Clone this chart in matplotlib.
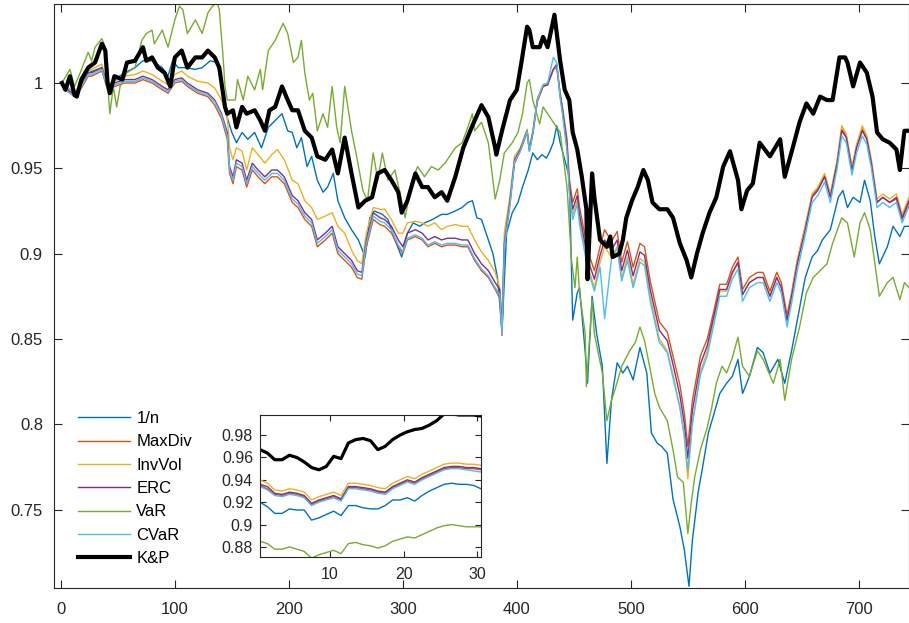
import numpy as np
import matplotlib
matplotlib.use('Agg')
import matplotlib.pyplot as plt

plt.rcParams['font.family'] = ['Liberation Sans', 'DejaVu Sans']

# MATLAB default colour order
c_1n = '#0072BD'
c_maxdiv = '#D95319'
c_invvol = '#EDB120'
c_erc = '#7E2F8E'
c_var = '#77AC30'
c_cvar = '#4DBEEE'
c_kp = 'black'
axcol = '#262626'

# ---- main chart data (day, cumulative value) ----
kp_days = [1, 4, 8, 12, 14, 18, 24, 30, 36, 39,
           41, 43, 47, 54, 58, 65, 72, 75, 80, 85,
           91, 96, 100, 106, 111, 118, 124, 129, 135, 139,
           144, 146, 151, 154, 159, 163, 170, 175, 179, 183,
           188, 194, 199, 203, 208, 214, 220, 225, 232, 238,
           243, 249, 255, 261, 267, 273, 278, 284, 290, 296,
           299, 304, 311, 317, 322, 328, 334, 339, 346, 353,
           361, 369, 375, 381, 382, 387, 394, 400, 404, 409,
           411, 414, 420, 423, 427, 433, 438, 442, 446, 449,
           453, 457, 461, 462, 466, 468, 473, 479, 482, 484,
           490, 493, 496, 501, 506, 511, 515, 519, 525, 532,
           537, 543, 549, 553, 558, 563, 569, 575, 581, 587,
           589, 594, 597, 602, 607, 613, 622, 631, 635, 642,
           648, 654, 660, 666, 672, 677, 683, 688, 690, 695,
           701, 707, 712, 716, 721, 727, 733, 736, 740, 744]
kp_vals = [1.000, 0.996, 1.004, 0.993, 0.992, 1.002, 1.009, 1.012, 1.023, 1.019,
           1.000, 0.994, 1.004, 1.002, 1.012, 1.013, 1.021, 1.013, 1.015, 1.009,
           1.006, 0.998, 1.015, 1.019, 1.009, 1.015, 1.015, 1.019, 1.015, 1.009,
           0.986, 0.982, 0.984, 0.974, 0.986, 0.982, 0.984, 0.978, 0.972, 0.984,
           0.986, 0.998, 0.990, 0.984, 0.984, 0.972, 0.968, 0.957, 0.955, 0.961,
           0.947, 0.968, 0.947, 0.927, 0.931, 0.933, 0.947, 0.949, 0.943, 0.936,
           0.924, 0.931, 0.947, 0.939, 0.939, 0.933, 0.936, 0.931, 0.945, 0.962,
           0.975, 0.987, 0.980, 0.962, 0.958, 0.972, 0.990, 0.996, 1.012, 1.033,
           1.031, 1.021, 1.021, 1.027, 1.021, 1.040, 1.013, 0.996, 0.990, 0.971,
           0.961, 0.945, 0.926, 0.885, 0.947, 0.933, 0.908, 0.904, 0.910, 0.898,
           0.900, 0.908, 0.921, 0.931, 0.939, 0.949, 0.943, 0.930, 0.926, 0.926,
           0.921, 0.906, 0.896, 0.886, 0.900, 0.912, 0.924, 0.933, 0.951, 0.960,
           0.955, 0.943, 0.926, 0.937, 0.941, 0.965, 0.957, 0.967, 0.945, 0.962,
           0.977, 0.988, 0.982, 0.992, 0.990, 0.990, 1.015, 1.015, 1.012, 0.998,
           1.012, 1.006, 0.992, 0.971, 0.967, 0.965, 0.961, 0.949, 0.972, 0.972]

var_days = [1, 8, 12, 17, 24, 27, 30, 36, 39, 41,
            43, 46, 49, 52, 58, 65, 71, 75, 80, 82,
            89, 94, 100, 104, 107, 111, 118, 124, 129, 133,
            137, 139, 142, 144, 146, 153, 155, 160, 164, 170,
            175, 177, 182, 188, 195, 199, 204, 208, 211, 214,
            218, 221, 225, 230, 234, 238, 242, 245, 249, 255,
            260, 265, 269, 274, 278, 282, 287, 293, 299, 302,
            308, 313, 319, 325, 331, 337, 343, 346, 352, 357,
            361, 363, 369, 375, 381, 385, 389, 396, 401, 405,
            409, 411, 414, 420, 423, 429, 438, 444, 448, 451,
            453, 455, 460, 461, 466, 468, 475, 479, 483, 486,
            492, 499, 504, 508, 512, 517, 521, 525, 532, 537,
            541, 546, 550, 553, 556, 561, 567, 571, 575, 580,
            584, 589, 594, 598, 604, 611, 616, 625, 631, 635,
            641, 648, 654, 660, 666, 672, 677, 685, 690, 696,
            701, 705, 710, 716, 718, 725, 730, 736, 740, 744]
var_vals = [1.000, 1.008, 0.998, 1.006, 1.018, 1.013, 1.021, 1.026, 1.021, 1.000,
            0.982, 0.998, 0.986, 0.998, 1.006, 1.009, 1.025, 1.029, 1.031, 1.023,
            1.031, 1.021, 1.037, 1.045, 1.043, 1.029, 1.037, 1.029, 1.041, 1.045,
            1.047, 1.043, 1.018, 0.998, 0.990, 0.990, 1.002, 0.990, 1.004, 0.996,
            1.008, 0.996, 1.019, 1.025, 1.035, 1.029, 1.012, 1.015, 1.025, 1.006,
            0.990, 0.994, 0.972, 0.982, 0.974, 0.998, 0.974, 0.965, 0.998, 0.972,
            0.955, 0.937, 0.931, 0.959, 0.943, 0.959, 0.943, 0.949, 0.931, 0.921,
            0.943, 0.951, 0.945, 0.951, 0.949, 0.953, 0.959, 0.962, 0.965, 0.974,
            0.982, 0.972, 0.977, 0.965, 0.932, 0.943, 0.959, 0.965, 0.971, 0.982,
            1.000, 1.002, 0.990, 0.976, 0.986, 0.980, 0.971, 0.939, 0.896, 0.880,
            0.898, 0.877, 0.853, 0.822, 0.873, 0.853, 0.830, 0.802, 0.814, 0.820,
            0.834, 0.843, 0.848, 0.857, 0.849, 0.832, 0.818, 0.810, 0.802, 0.785,
            0.769, 0.766, 0.736, 0.754, 0.769, 0.785, 0.798, 0.810, 0.824, 0.834,
            0.830, 0.839, 0.851, 0.834, 0.828, 0.843, 0.838, 0.824, 0.838, 0.814,
            0.838, 0.857, 0.877, 0.886, 0.890, 0.894, 0.906, 0.921, 0.918, 0.898,
            0.918, 0.924, 0.914, 0.885, 0.875, 0.883, 0.886, 0.873, 0.883, 0.880]

n_days = [1, 12, 24, 36, 41, 47, 56, 65, 72, 80,
          89, 94, 98, 103, 109, 118, 124, 131, 137, 141,
          144, 150, 154, 159, 164, 170, 176, 182, 188, 194,
          199, 203, 207, 211, 216, 220, 225, 230, 234, 239,
          243, 249, 255, 261, 267, 271, 275, 282, 287, 293,
          299, 304, 309, 315, 319, 326, 334, 339, 346, 352,
          357, 361, 365, 369, 375, 379, 383, 387, 391, 396,
          401, 405, 410, 414, 418, 422, 426, 429, 432, 435,
          438, 442, 446, 449, 453, 455, 460, 462, 466, 470,
          475, 479, 483, 488, 493, 497, 502, 508, 514, 518,
          523, 527, 532, 537, 543, 547, 551, 554, 559, 563,
          568, 572, 578, 584, 589, 594, 598, 604, 611, 616,
          622, 629, 635, 641, 646, 653, 659, 664, 668, 675,
          682, 686, 690, 695, 701, 705, 710, 714, 718, 725,
          730, 736, 740, 744]
n_vals = [1.000, 0.994, 1.006, 1.009, 0.998, 1.002, 1.006, 1.009, 1.013, 1.013,
          1.009, 1.004, 1.013, 1.009, 1.009, 1.008, 1.009, 1.013, 1.012, 1.000,
          0.984, 0.971, 0.965, 0.971, 0.967, 0.971, 0.962, 0.974, 0.978, 0.982,
          0.972, 0.971, 0.962, 0.968, 0.951, 0.957, 0.943, 0.936, 0.939, 0.947,
          0.931, 0.921, 0.914, 0.908, 0.898, 0.921, 0.925, 0.923, 0.920, 0.908,
          0.898, 0.912, 0.918, 0.916, 0.918, 0.920, 0.923, 0.923, 0.925, 0.927,
          0.930, 0.931, 0.921, 0.920, 0.908, 0.900, 0.886, 0.855, 0.912, 0.924,
          0.930, 0.939, 0.949, 0.959, 0.955, 0.958, 0.956, 0.960, 0.965, 0.975,
          0.965, 0.955, 0.945, 0.861, 0.877, 0.880, 0.842, 0.824, 0.875, 0.853,
          0.834, 0.777, 0.814, 0.836, 0.830, 0.834, 0.826, 0.845, 0.830, 0.795,
          0.789, 0.787, 0.783, 0.756, 0.740, 0.726, 0.705, 0.732, 0.760, 0.775,
          0.795, 0.804, 0.818, 0.824, 0.828, 0.838, 0.818, 0.828, 0.845, 0.842,
          0.830, 0.838, 0.824, 0.843, 0.861, 0.886, 0.898, 0.902, 0.908, 0.914,
          0.933, 0.937, 0.927, 0.933, 0.930, 0.943, 0.931, 0.910, 0.894, 0.904,
          0.916, 0.910, 0.916, 0.916]

# the four close strategies share one day grid
cl_days = [1, 6, 12, 18, 24, 27, 36, 41, 47, 56,
           65, 72, 80, 89, 94, 100, 106, 111, 120, 129,
           135, 141, 146, 148, 151, 154, 159, 163, 168, 173,
           179, 185, 190, 196, 203, 208, 214, 220, 225, 232,
           238, 243, 249, 255, 260, 264, 268, 274, 280, 284,
           290, 296, 300, 304, 311, 317, 322, 328, 334, 339,
           346, 352, 357, 363, 369, 375, 381, 385, 387, 389,
           394, 398, 403, 409, 411, 414, 418, 423, 427, 432,
           435, 438, 440, 444, 446, 449, 453, 455, 460, 464,
           468, 473, 477, 483, 488, 492, 497, 502, 508, 512,
           517, 521, 525, 532, 537, 543, 547, 550, 554, 561,
           567, 572, 578, 584, 589, 594, 598, 604, 611, 616,
           622, 628, 632, 637, 641, 646, 653, 659, 664, 670,
           675, 681, 685, 689, 694, 698, 703, 707, 711, 716,
           721, 727, 733, 738, 744]
erc_vals = [1.000, 0.996, 0.993, 0.999, 1.006, 1.006, 1.009, 0.998, 1.000, 1.002,
            1.002, 1.004, 1.002, 0.998, 0.996, 1.002, 1.003, 1.000, 0.996, 0.994,
            0.990, 0.982, 0.971, 0.951, 0.945, 0.955, 0.953, 0.943, 0.953, 0.949,
            0.945, 0.949, 0.949, 0.945, 0.934, 0.931, 0.924, 0.920, 0.908, 0.912,
            0.916, 0.904, 0.900, 0.896, 0.890, 0.889, 0.908, 0.924, 0.921, 0.920,
            0.916, 0.908, 0.904, 0.912, 0.914, 0.912, 0.908, 0.910, 0.908, 0.909,
            0.909, 0.908, 0.908, 0.900, 0.894, 0.890, 0.883, 0.879, 0.855, 0.906,
            0.931, 0.955, 0.961, 0.972, 0.961, 0.971, 0.990, 0.998, 0.999, 1.008,
            1.011, 0.993, 0.984, 0.964, 0.940, 0.926, 0.934, 0.923, 0.905, 0.893,
            0.885, 0.899, 0.908, 0.902, 0.908, 0.890, 0.902, 0.887, 0.901, 0.899,
            0.879, 0.867, 0.855, 0.849, 0.835, 0.817, 0.800, 0.780, 0.808, 0.835,
            0.846, 0.861, 0.879, 0.879, 0.889, 0.895, 0.876, 0.883, 0.886, 0.886,
            0.875, 0.886, 0.880, 0.861, 0.875, 0.894, 0.914, 0.933, 0.937, 0.945,
            0.933, 0.953, 0.972, 0.968, 0.949, 0.962, 0.972, 0.967, 0.953, 0.930,
            0.933, 0.930, 0.933, 0.921, 0.931]
maxdiv_vals = [1.000, 0.995, 0.992, 0.997, 1.004, 1.004, 1.007, 0.996, 0.998, 1.000,
               1.000, 1.002, 1.000, 0.996, 0.994, 1.000, 1.001, 0.998, 0.994, 0.992,
               0.987, 0.979, 0.967, 0.947, 0.941, 0.951, 0.949, 0.939, 0.949, 0.945,
               0.941, 0.945, 0.945, 0.941, 0.930, 0.927, 0.920, 0.916, 0.904, 0.908,
               0.912, 0.900, 0.896, 0.892, 0.886, 0.885, 0.904, 0.920, 0.917, 0.916,
               0.912, 0.904, 0.900, 0.908, 0.910, 0.908, 0.904, 0.906, 0.904, 0.905,
               0.905, 0.904, 0.904, 0.896, 0.890, 0.886, 0.879, 0.874, 0.852, 0.904,
               0.929, 0.953, 0.960, 0.971, 0.960, 0.970, 0.989, 0.998, 0.999, 1.008,
               1.009, 0.994, 0.986, 0.967, 0.944, 0.930, 0.938, 0.927, 0.910, 0.898,
               0.890, 0.904, 0.914, 0.907, 0.913, 0.895, 0.907, 0.892, 0.906, 0.904,
               0.884, 0.872, 0.860, 0.854, 0.840, 0.823, 0.806, 0.787, 0.814, 0.840,
               0.850, 0.864, 0.882, 0.882, 0.892, 0.898, 0.879, 0.886, 0.889, 0.889,
               0.878, 0.889, 0.883, 0.864, 0.877, 0.896, 0.916, 0.934, 0.938, 0.946,
               0.934, 0.954, 0.973, 0.969, 0.950, 0.963, 0.973, 0.968, 0.953, 0.930,
               0.933, 0.930, 0.932, 0.920, 0.930]
invvol_vals = [1.000, 0.997, 0.994, 1.000, 1.007, 1.008, 1.011, 0.999, 1.001, 1.004,
               1.005, 1.007, 1.005, 1.001, 0.999, 1.005, 1.007, 1.004, 1.001, 1.000,
               0.997, 0.990, 0.980, 0.962, 0.955, 0.962, 0.960, 0.949, 0.962, 0.958,
               0.953, 0.958, 0.961, 0.955, 0.943, 0.941, 0.931, 0.927, 0.920, 0.922,
               0.924, 0.916, 0.912, 0.902, 0.896, 0.894, 0.912, 0.927, 0.926, 0.926,
               0.920, 0.912, 0.912, 0.918, 0.919, 0.918, 0.916, 0.918, 0.914, 0.916,
               0.917, 0.916, 0.916, 0.908, 0.901, 0.896, 0.889, 0.880, 0.861, 0.912,
               0.934, 0.957, 0.962, 0.973, 0.962, 0.972, 0.991, 0.999, 1.000, 1.008,
               1.010, 0.992, 0.983, 0.962, 0.938, 0.923, 0.931, 0.920, 0.901, 0.889,
               0.880, 0.895, 0.904, 0.898, 0.904, 0.886, 0.898, 0.882, 0.897, 0.895,
               0.875, 0.862, 0.850, 0.843, 0.829, 0.810, 0.792, 0.768, 0.800, 0.830,
               0.843, 0.859, 0.878, 0.878, 0.888, 0.894, 0.876, 0.883, 0.886, 0.886,
               0.875, 0.886, 0.880, 0.860, 0.876, 0.896, 0.916, 0.935, 0.939, 0.947,
               0.935, 0.955, 0.975, 0.970, 0.951, 0.964, 0.975, 0.969, 0.955, 0.932,
               0.935, 0.932, 0.935, 0.923, 0.933]
cvar_vals = [1.000, 0.995, 0.992, 0.998, 1.005, 1.005, 1.008, 0.997, 0.999, 1.001,
             1.001, 1.003, 1.001, 0.997, 0.995, 1.001, 1.002, 0.999, 0.995, 0.993,
             0.989, 0.981, 0.969, 0.949, 0.943, 0.953, 0.951, 0.941, 0.951, 0.947,
             0.943, 0.947, 0.947, 0.943, 0.932, 0.929, 0.922, 0.918, 0.906, 0.910,
             0.914, 0.902, 0.898, 0.894, 0.888, 0.887, 0.906, 0.922, 0.919, 0.918,
             0.914, 0.905, 0.901, 0.909, 0.911, 0.909, 0.905, 0.907, 0.905, 0.906,
             0.906, 0.905, 0.905, 0.897, 0.891, 0.887, 0.880, 0.876, 0.853, 0.904,
             0.929, 0.954, 0.960, 0.972, 0.960, 0.970, 0.990, 0.999, 1.000, 1.015,
             1.012, 0.991, 0.982, 0.960, 0.936, 0.920, 0.929, 0.917, 0.899, 0.887,
             0.878, 0.892, 0.862, 0.897, 0.903, 0.884, 0.896, 0.880, 0.895, 0.893,
             0.872, 0.860, 0.848, 0.842, 0.827, 0.810, 0.793, 0.773, 0.801, 0.829,
             0.840, 0.856, 0.875, 0.875, 0.885, 0.891, 0.872, 0.880, 0.883, 0.883,
             0.872, 0.883, 0.877, 0.857, 0.871, 0.890, 0.911, 0.930, 0.934, 0.942,
             0.930, 0.950, 0.969, 0.965, 0.946, 0.959, 0.969, 0.964, 0.950, 0.927,
             0.930, 0.927, 0.930, 0.918, 0.928]

# ---- inset data (31 days) ----
in_days = np.arange(0.5, 31, 1.0)
in_1n = [0.920, 0.916, 0.910, 0.910, 0.914, 0.913, 0.913, 0.904, 0.906, 0.909,
         0.912, 0.908, 0.917, 0.917, 0.915, 0.914, 0.914, 0.917, 0.922, 0.922,
         0.924, 0.921, 0.926, 0.930, 0.933, 0.936, 0.937, 0.936, 0.936, 0.935, 0.932]
in_maxdiv = [0.935, 0.932, 0.927, 0.926, 0.928, 0.927, 0.925, 0.918, 0.921, 0.923,
             0.925, 0.922, 0.933, 0.933, 0.932, 0.931, 0.929, 0.928, 0.933, 0.936,
             0.939, 0.937, 0.941, 0.944, 0.947, 0.950, 0.951, 0.951, 0.950, 0.950, 0.949]
in_invvol = [0.940, 0.937, 0.931, 0.930, 0.932, 0.931, 0.929, 0.922, 0.925, 0.927,
             0.929, 0.926, 0.937, 0.937, 0.936, 0.935, 0.933, 0.932, 0.937, 0.940,
             0.943, 0.941, 0.945, 0.948, 0.951, 0.954, 0.955, 0.955, 0.954, 0.954, 0.953]
in_erc = [0.936, 0.934, 0.928, 0.927, 0.929, 0.928, 0.926, 0.919, 0.922, 0.924,
          0.926, 0.923, 0.934, 0.934, 0.933, 0.932, 0.930, 0.929, 0.934, 0.937,
          0.940, 0.938, 0.942, 0.945, 0.948, 0.951, 0.952, 0.952, 0.951, 0.951, 0.950]
in_var = [0.885, 0.883, 0.878, 0.878, 0.880, 0.878, 0.876, 0.870, 0.873, 0.875,
          0.877, 0.874, 0.883, 0.884, 0.882, 0.881, 0.879, 0.881, 0.885, 0.887,
          0.889, 0.888, 0.891, 0.894, 0.897, 0.899, 0.900, 0.899, 0.898, 0.898, 0.898]
in_cvar = [0.934, 0.931, 0.926, 0.925, 0.927, 0.926, 0.924, 0.917, 0.920, 0.922,
           0.924, 0.921, 0.932, 0.932, 0.931, 0.930, 0.928, 0.927, 0.932, 0.935,
           0.938, 0.936, 0.940, 0.943, 0.946, 0.949, 0.950, 0.950, 0.949, 0.948, 0.947]
in_kp = [0.967, 0.964, 0.958, 0.958, 0.962, 0.960, 0.956, 0.951, 0.949, 0.952,
         0.961, 0.959, 0.973, 0.976, 0.977, 0.975, 0.967, 0.970, 0.976, 0.980,
         0.983, 0.985, 0.986, 0.989, 0.993, 0.999, 0.999, 0.998, 0.998, 0.998, 0.997]

W, H = 909, 623
fig = plt.figure(figsize=(W / 100, H / 100), dpi=100)
ax = fig.add_axes([54 / W, 35 / H, 855 / W, 584 / H])

thin = 1.0
ax.plot(n_days, n_vals, color=c_1n, lw=thin, label='1/n')
ax.plot(cl_days, maxdiv_vals, color=c_maxdiv, lw=thin, label='MaxDiv')
ax.plot(cl_days, invvol_vals, color=c_invvol, lw=thin, label='InvVol')
ax.plot(cl_days, erc_vals, color=c_erc, lw=thin, label='ERC')
ax.plot(var_days, var_vals, color=c_var, lw=thin, label='VaR')
ax.plot(cl_days, cvar_vals, color=c_cvar, lw=thin, label='CVaR')
ax.plot(kp_days, kp_vals, color=c_kp, lw=3.0, label='K&P')

ax.set_xlim(-6, 744)
ax.set_ylim(0.704, 1.0463)
ax.set_xticks(range(0, 701, 100))
ax.set_yticks([0.75, 0.8, 0.85, 0.9, 0.95, 1.0])
ax.set_yticklabels(['0.75', '0.8', '0.85', '0.9', '0.95', '1'])
ax.tick_params(direction='in', length=5.5, width=0.8, top=True, right=True,
               labelsize=12, colors=axcol)
ax.tick_params(axis='x', pad=10)
ax.tick_params(axis='y', pad=8)
for s in ax.spines.values():
    s.set_color(axcol)
    s.set_linewidth(0.8)

ax.legend(loc='upper left', bbox_to_anchor=(78 / W, 1 - 411 / H),
          bbox_transform=fig.transFigure, frameon=False, fontsize=12,
          handlelength=3.1, handletextpad=0.4, labelspacing=0.5,
          borderpad=0, borderaxespad=0)

# inset
axin = fig.add_axes([260 / W, 66 / H, 221 / W, 142 / H])
axin.plot(in_days, in_1n, color=c_1n, lw=thin)
axin.plot(in_days, in_maxdiv, color=c_maxdiv, lw=thin)
axin.plot(in_days, in_invvol, color=c_invvol, lw=thin)
axin.plot(in_days, in_erc, color=c_erc, lw=thin)
axin.plot(in_days, in_var, color=c_var, lw=thin)
axin.plot(in_days, in_cvar, color=c_cvar, lw=thin)
axin.plot(in_days, in_kp, color=c_kp, lw=2.3)
axin.set_xlim(0.5, 30.5)
axin.set_ylim(0.871, 0.998)
axin.set_xticks([10, 20, 30])
axin.set_yticks([0.88, 0.9, 0.92, 0.94, 0.96, 0.98])
axin.set_yticklabels(['0.88', '0.9', '0.92', '0.94', '0.96', '0.98'])
axin.tick_params(direction='in', length=4, width=0.8, top=True, right=True,
                 labelsize=11.5, colors=axcol)
axin.tick_params(axis='x', pad=7)
axin.tick_params(axis='y', pad=5)
for s in axin.spines.values():
    s.set_color(axcol)
    s.set_linewidth(0.8)

fig.savefig('out.png', dpi=100)
